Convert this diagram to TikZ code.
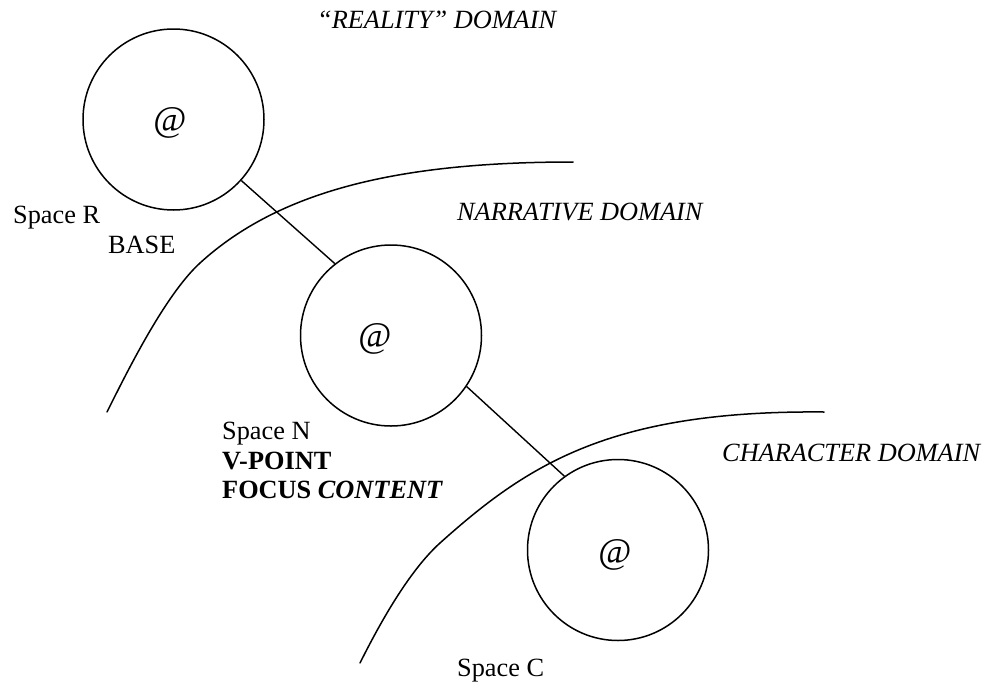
\documentclass[tikz,border=0pt]{standalone}
\usepackage{fontspec}
\setmainfont{Liberation Serif}
\begin{document}
\begin{tikzpicture}[x=1pt,y=-1pt,
  spacecircle/.style={circle, draw, line width=1.5pt, minimum size=181pt, inner sep=0pt},
  link/.style={line width=1.4pt},
  boundary/.style={line width=1.5pt, line cap=round},
  lbl/.style={anchor=base west, inner sep=0pt, font=\fontsize{26.3}{30}\selectfont},
  atsign/.style={inner sep=0pt, font=\fontsize{36}{40}\selectfont}]
\useasboundingbox (0,0) rectangle (985,683);

% the three mental spaces
\node[spacecircle] (spaceR) at (173.5,119.5) {};
\node[spacecircle] (spaceN) at (391,335.5) {};
\node[spacecircle] (spaceC) at (618,550) {};
\node[atsign] (atR) at (170,123) {@};
\node[atsign] (atN) at (375,339) {@};
\node[atsign] (atC) at (615,555) {@};

% links between spaces
\draw[link] (spaceR.-42.4) -- (spaceN.128.6);
\draw[link] (spaceN.-34) -- (spaceC.126.5);

% domain boundaries
\draw[boundary] (573,162) .. controls (400,162) and (280,190) .. (200,263)
                          .. controls (165,295) and (127,372) .. (107,412);
\draw[boundary] (824,412) .. controls (610,410) and (527,465) .. (440,543)
                          .. controls (409,571) and (380,623) .. (360,663);

% domain names
\node[lbl, font=\fontsize{26.3}{30}\selectfont\itshape] (realdom) at (317,28) {“REALITY” DOMAIN};
\node[lbl, font=\fontsize{26.3}{30}\selectfont\itshape] (narrdom) at (457,220) {NARRATIVE DOMAIN};
\node[lbl, font=\fontsize{26.3}{30}\selectfont\itshape] (chardom) at (722,461) {CHARACTER DOMAIN};

% space labels
\node[lbl] (labR) at (13,223) {Space R};
\node[lbl] (base) at (108,253) {BASE};
\node[lbl] (labN) at (222,439) {Space N};
\node[lbl, font=\fontsize{26.3}{30}\selectfont\bfseries] (vpoint) at (222,469) {V-POINT};
\node[lbl, font=\fontsize{26.3}{30}\selectfont\bfseries] (focus) at (222,498) {FOCUS \textit{CONTENT}};
\node[lbl] (labC) at (457,676) {Space C};
\end{tikzpicture}
\end{document}
